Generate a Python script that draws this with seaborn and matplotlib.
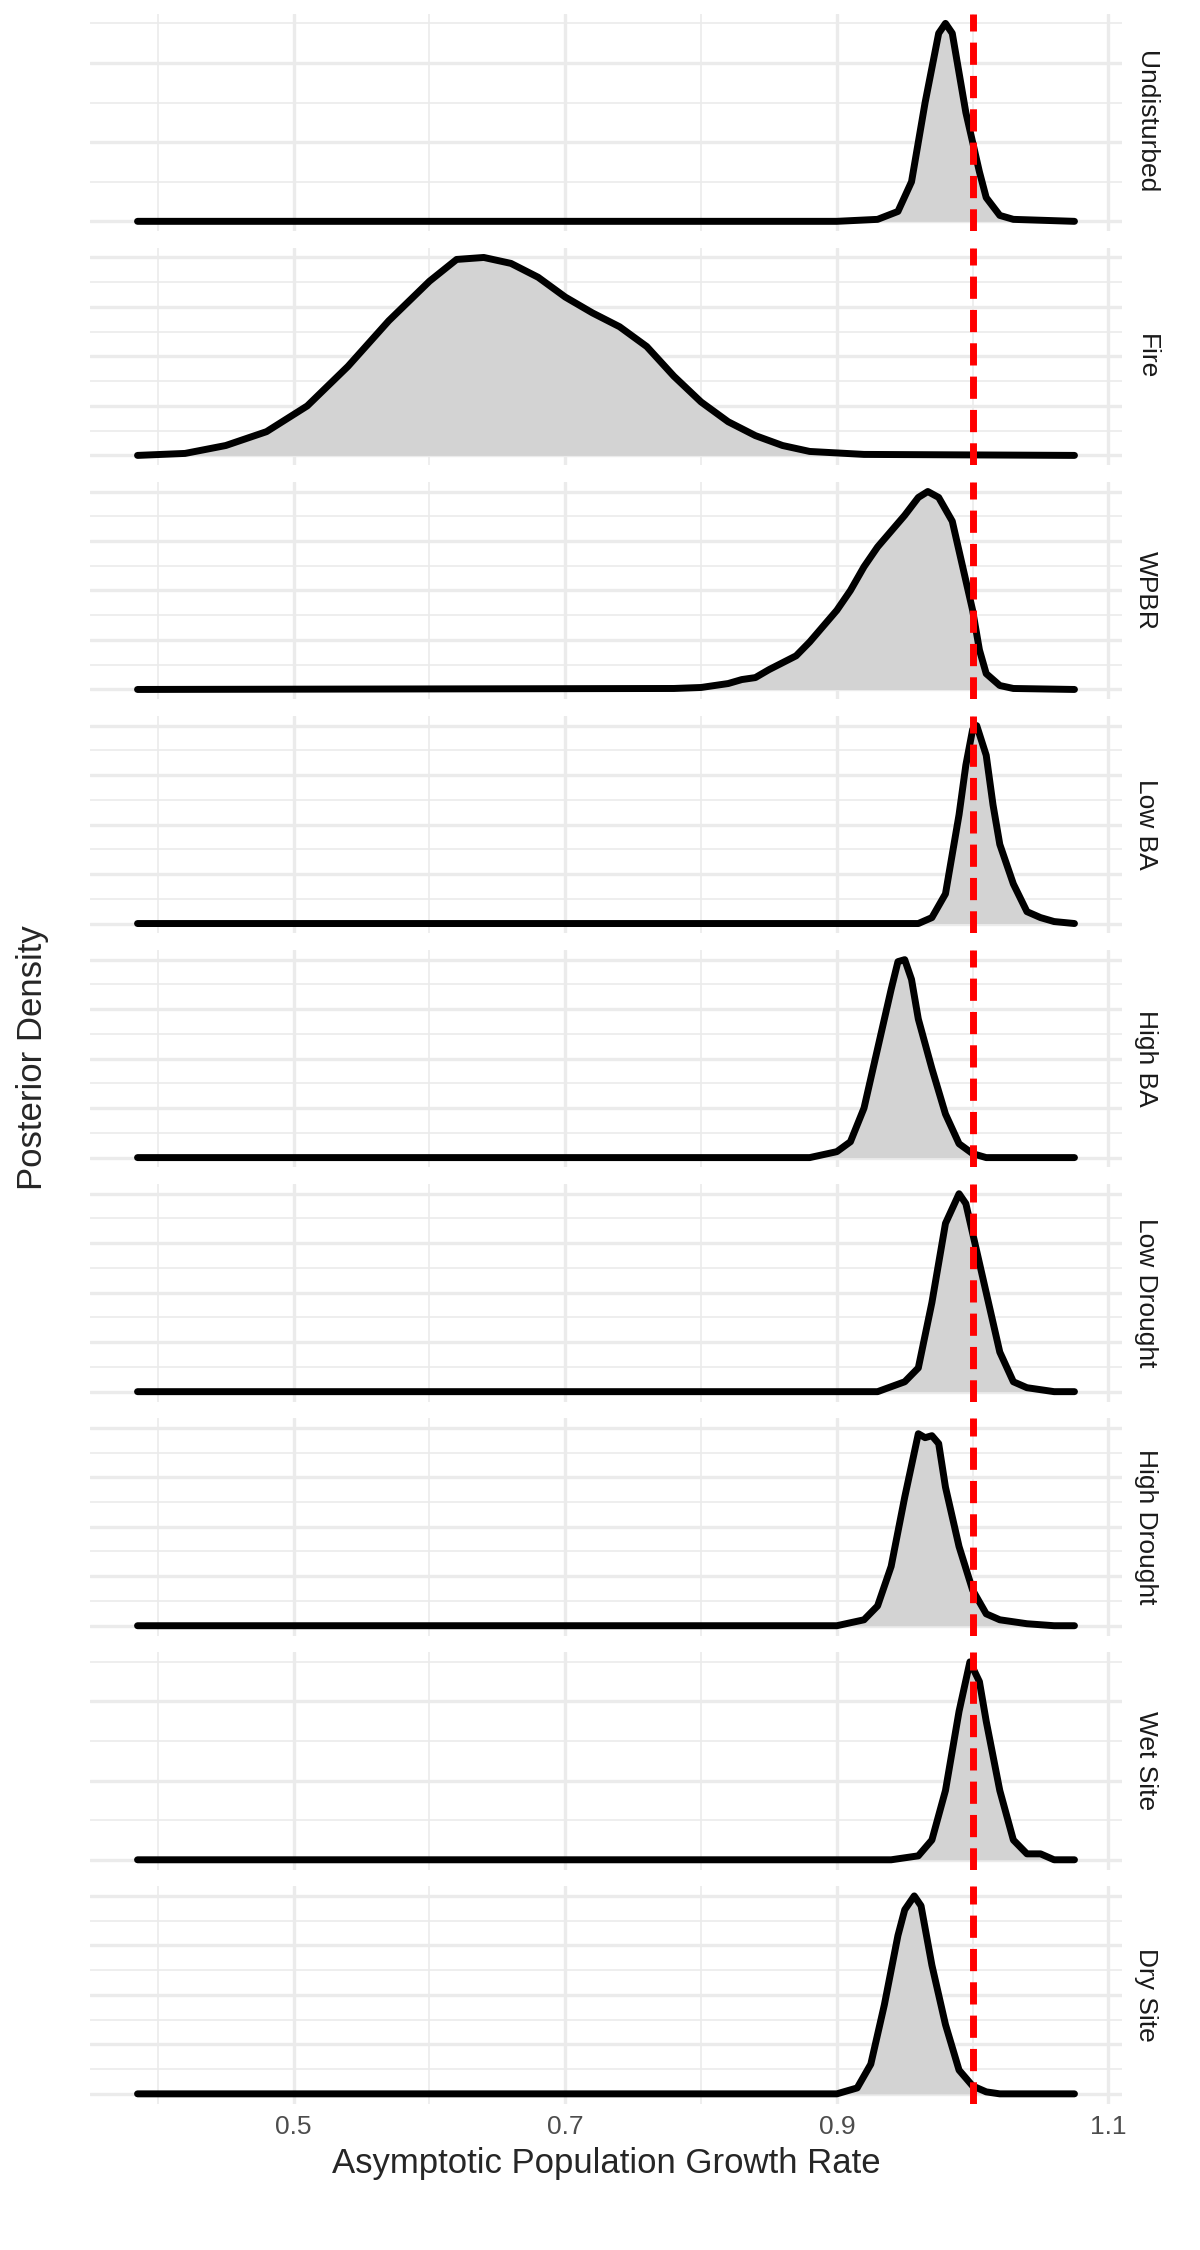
import matplotlib
matplotlib.use("Agg")
import matplotlib.pyplot as plt
import seaborn as sns
import pandas as pd
from matplotlib.ticker import MultipleLocator

# relative posterior density, per treatment
labels = ["Undisturbed", "Fire", "WPBR", "Low BA", "High BA",
          "Low Drought", "High Drought", "Wet Site", "Dry Site"]

undisturbed_x = [0.385, 0.90, 0.93, 0.945, 0.955, 0.965, 0.975, 0.98, 0.985, 0.99, 0.995, 1.0, 1.005, 1.01, 1.02, 1.03, 1.075]
undisturbed_y = [0, 0, 0.01, 0.05, 0.2, 0.6, 0.95, 1.0, 0.95, 0.75, 0.55, 0.4, 0.25, 0.12, 0.03, 0.01, 0]

fire_x = [0.385, 0.42, 0.45, 0.48, 0.51, 0.54, 0.57, 0.60, 0.62, 0.64, 0.66, 0.68, 0.70, 0.72, 0.74, 0.76, 0.78, 0.80, 0.82, 0.84, 0.86, 0.88, 0.92, 1.075]
fire_y = [0, 0.01, 0.05, 0.12, 0.25, 0.45, 0.68, 0.88, 0.99, 1.0, 0.97, 0.9, 0.8, 0.72, 0.65, 0.55, 0.4, 0.27, 0.17, 0.1, 0.05, 0.02, 0.005, 0]

wpbr_x = [0.385, 0.78, 0.80, 0.82, 0.83, 0.84, 0.85, 0.87, 0.88, 0.89, 0.90, 0.91, 0.92, 0.93, 0.94, 0.95, 0.96, 0.967, 0.975, 0.985, 0.995, 1.0, 1.005, 1.01, 1.02, 1.03, 1.075]
wpbr_y = [0, 0.005, 0.01, 0.03, 0.05, 0.06, 0.1, 0.17, 0.24, 0.32, 0.4, 0.5, 0.62, 0.72, 0.8, 0.88, 0.97, 1.0, 0.97, 0.85, 0.55, 0.4, 0.2, 0.08, 0.02, 0.005, 0]

lowba_x = [0.385, 0.96, 0.97, 0.98, 0.99, 0.995, 1.0, 1.003, 1.01, 1.015, 1.02, 1.03, 1.04, 1.05, 1.06, 1.075]
lowba_y = [0, 0, 0.03, 0.15, 0.55, 0.8, 0.98, 1.0, 0.85, 0.6, 0.4, 0.2, 0.06, 0.03, 0.01, 0]

highba_x = [0.385, 0.88, 0.90, 0.91, 0.92, 0.93, 0.94, 0.945, 0.95, 0.955, 0.96, 0.97, 0.98, 0.99, 1.0, 1.01, 1.075]
highba_y = [0, 0, 0.03, 0.08, 0.25, 0.55, 0.85, 0.99, 1.0, 0.9, 0.7, 0.45, 0.22, 0.07, 0.02, 0, 0]

lowdr_x = [0.385, 0.93, 0.95, 0.96, 0.97, 0.98, 0.99, 0.995, 1.0, 1.01, 1.02, 1.03, 1.04, 1.06, 1.075]
lowdr_y = [0, 0, 0.05, 0.12, 0.45, 0.85, 1.0, 0.95, 0.8, 0.5, 0.2, 0.05, 0.02, 0, 0]

highdr_x = [0.385, 0.90, 0.92, 0.93, 0.94, 0.95, 0.96, 0.965, 0.97, 0.975, 0.98, 0.99, 1.0, 1.01, 1.02, 1.04, 1.06, 1.075]
highdr_y = [0, 0, 0.03, 0.1, 0.3, 0.65, 0.97, 0.95, 0.96, 0.92, 0.7, 0.4, 0.18, 0.06, 0.03, 0.01, 0, 0]

wet_x = [0.385, 0.94, 0.96, 0.97, 0.98, 0.99, 0.998, 1.005, 1.01, 1.02, 1.03, 1.04, 1.05, 1.06, 1.075]
wet_y = [0, 0, 0.02, 0.1, 0.35, 0.75, 1.0, 0.9, 0.7, 0.35, 0.1, 0.03, 0.03, 0, 0]

dry_x = [0.385, 0.90, 0.915, 0.925, 0.935, 0.945, 0.95, 0.957, 0.962, 0.97, 0.98, 0.99, 1.0, 1.01, 1.02, 1.075]
dry_y = [0, 0, 0.03, 0.15, 0.45, 0.8, 0.93, 1.0, 0.95, 0.65, 0.35, 0.12, 0.04, 0.01, 0, 0]

curves = [(undisturbed_x, undisturbed_y), (fire_x, fire_y), (wpbr_x, wpbr_y),
          (lowba_x, lowba_y), (highba_x, highba_y), (lowdr_x, lowdr_y),
          (highdr_x, highdr_y), (wet_x, wet_y), (dry_x, dry_y)]

# grid spacing per panel (free y scales give different line counts)
grid_steps = [0.4, 0.25, 0.25, 0.25, 0.25, 0.25, 0.25, 0.4, 0.25]

sns.set_style("whitegrid")
plt.rcParams["font.family"] = ["Liberation Sans", "DejaVu Sans"]

fig, axes = plt.subplots(9, 1, figsize=(12, 22.5), dpi=100, sharex=True)
fig.subplots_adjust(left=0.075, right=0.935, top=0.994, bottom=0.065, hspace=0.075)

for ax, lab, (xs, ys), step in zip(axes, labels, curves, grid_steps):
    df = pd.DataFrame({"x": xs, "y": ys})
    ax.fill_between(df["x"], df["y"], color="#d3d3d3", lw=0)
    sns.lineplot(data=df, x="x", y="y", ax=ax, color="black", lw=5, sort=False)
    ax.axvline(1.0, color="red", lw=5, ls=(0, (3.2, 1.6)))
    ax.set_xlim(0.35, 1.11)
    ax.set_ylim(-0.05, 1.05)
    ax.yaxis.set_major_locator(MultipleLocator(step))
    ax.yaxis.set_minor_locator(MultipleLocator(step / 2))
    ax.xaxis.set_major_locator(MultipleLocator(0.2))
    ax.xaxis.set_minor_locator(MultipleLocator(0.1))
    ax.grid(which="major", color="#ebebeb", lw=2.4)
    ax.grid(which="minor", color="#ebebeb", lw=1.2)
    ax.set_yticklabels([])
    ax.tick_params(axis="y", length=0)
    ax.tick_params(axis="x", length=0, labelsize=19, labelcolor="#4d4d4d", pad=8)
    for s in ax.spines.values():
        s.set_visible(False)
    ax.set_xlabel("")
    ax.set_ylabel("")
    ax.text(1.012, 0.5, lab, transform=ax.transAxes, rotation=-90,
            ha="left", va="center", fontsize=19, color="#1a1a1a")

axes[-1].set_xticks([0.5, 0.7, 0.9, 1.1])
axes[-1].set_xticklabels(["0.5", "0.7", "0.9", "1.1"])
axes[-1].set_xlabel("Asymptotic Population Growth Rate", fontsize=25, labelpad=6)
fig.text(0.027, 0.53, "Posterior Density", rotation=90, ha="center", va="center", fontsize=25)

plt.savefig("out.png", dpi=100)
plt.close()
